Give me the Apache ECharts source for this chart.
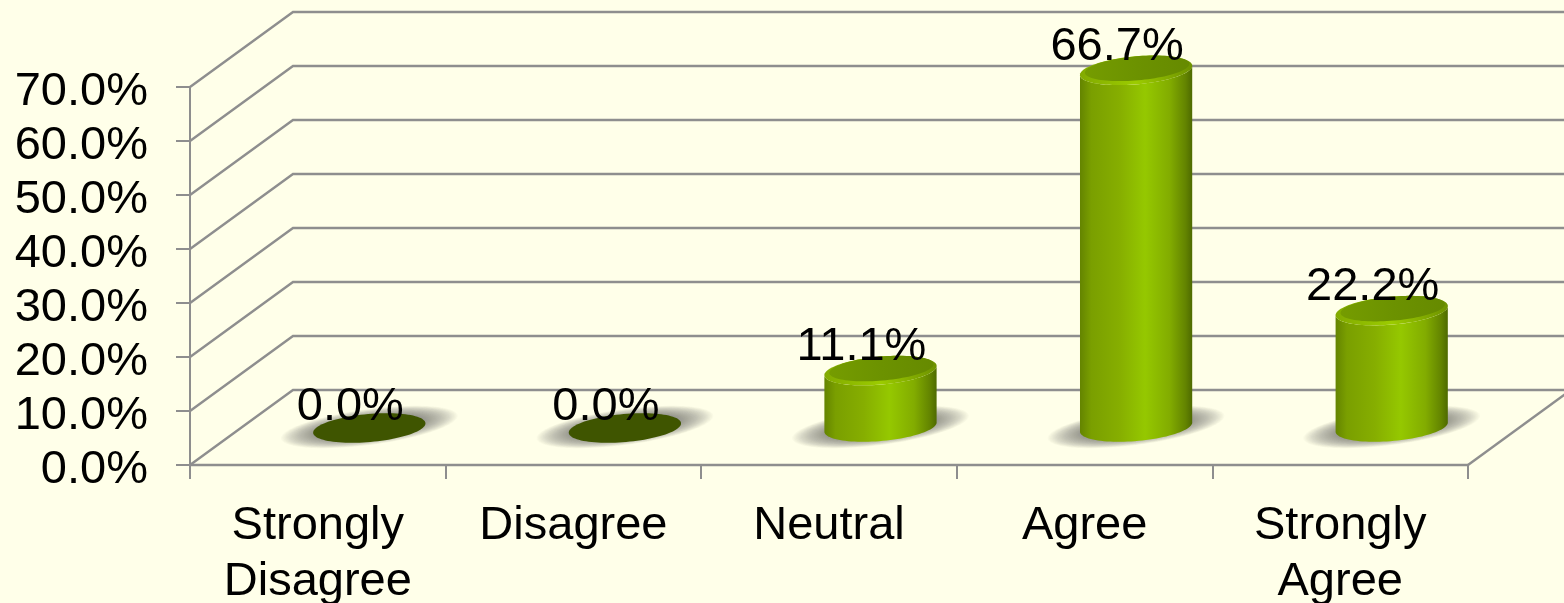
<!DOCTYPE html>
<html>
<head>
<meta charset="utf-8">
<style>html,body{margin:0;padding:0;background:#FFFFE9;overflow:hidden}#c{width:1564px;height:603px}</style>
<script src="https://cdn.jsdelivr.net/npm/echarts@6/dist/echarts.min.js"></script>
</head>
<body>
<div id="c"></div>
<script>
const categories = ['Strongly\nDisagree', 'Disagree', 'Neutral', 'Agree', 'Strongly\nAgree'];
const values = [0.0, 0.0, 11.1, 66.7, 22.2];
const wallTicks = [0, 10, 20, 30, 40, 50, 60, 70];

const FONT = '"Liberation Sans", Arial, sans-serif';
const LINE = '#8E8E8E';
const DEPTH_X = 103, DEPTH_Y = -75;
const TILT = 5 * Math.PI / 180;
const SHADOW_TILT = 7.5 * Math.PI / 180;
const CAP_DROP = 3;

function ellipsePt(cx, cy, rx, ry, t, tilt) {
  const c = Math.cos(t), s = Math.sin(t);
  return [cx + rx * c * Math.cos(tilt) + ry * s * Math.sin(tilt),
          cy - rx * c * Math.sin(tilt) + ry * s * Math.cos(tilt)];
}
function ellipsePts(cx, cy, rx, ry, tilt) {
  const p = [];
  for (let i = 0; i < 96; i++) p.push(ellipsePt(cx, cy, rx, ry, i / 96 * 2 * Math.PI, tilt === undefined ? TILT : tilt));
  return p;
}
function hGrad(stops) {
  return { type: 'linear', x: 0, y: 0, x2: 1, y2: 0,
    colorStops: stops.map(s => ({ offset: s[0], color: s[1] })) };
}

function renderWall(params, api) {
  const cs = params.coordSys;
  const v = api.value(1);
  const y = api.coord([0, v])[1];
  const L = cs.x, R = cs.x + cs.width;
  const style = { stroke: LINE, lineWidth: 2.4, fill: null };
  const children = [{ type: 'polyline', shape: { points: [[L, y], [L + DEPTH_X, y + DEPTH_Y], [R + DEPTH_X, y + DEPTH_Y]] }, style }];
  if (v === 0) children.push({ type: 'line', shape: { x1: R, y1: y, x2: R + DEPTH_X, y2: y + DEPTH_Y }, style });
  return { type: 'group', children };
}

function renderBar(params, api) {
  const idx = api.value(0), v = api.value(1);
  const band = api.size([1, 0])[0];
  const rx = band * 0.2205, ry = 14;
  const base = api.coord([idx, 0]);
  const cx = base[0] + DEPTH_X / 2;
  const by = base[1] + DEPTH_Y / 2 + 0.5;
  const children = [];
  const layers = 30;
  for (let k = 0; k < layers; k++) {
    const f = k / (layers - 1);
    children.push({
      type: 'polygon',
      shape: { points: ellipsePts(cx, by - 1, rx * (1.58 - 0.66 * f), ry * (1.28 - 0.6 * f), SHADOW_TILT) },
      style: { fill: 'rgba(95,97,80,0.032)' }
    });
  }
  if (v === 0) {
    children.push({ type: 'polygon', shape: { points: ellipsePts(cx, by, rx, ry) }, style: { fill: '#3F5500' } });
    return { type: 'group', children };
  }
  const ty = api.coord([idx, v])[1] + DEPTH_Y / 2 + CAP_DROP;
  const t0 = Math.atan(ry * Math.tan(TILT) / rx);
  const body = [];
  for (let i = 0; i <= 48; i++) body.push(ellipsePt(cx, by - 1, rx, ry, -t0 + i / 48 * Math.PI, TILT));
  for (let i = 0; i <= 48; i++) body.push(ellipsePt(cx, ty, rx, ry, -t0 + Math.PI - i / 48 * Math.PI, TILT));
  children.push({
    type: 'polygon', shape: { points: body },
    style: { fill: hGrad([[0, '#648400'], [0.1, '#7A9F00'], [0.35, '#86AE00'], [0.58, '#95C800'], [0.8, '#82AC00'], [0.94, '#638400'], [1, '#4E6A00']]) }
  });
  children.push({
    type: 'polygon', shape: { points: ellipsePts(cx, ty, rx, ry) },
    style: { fill: hGrad([[0, '#82AA00'], [0.5, '#9CCC00'], [1, '#6E9200']]) }
  });
  children.push({
    type: 'polygon', shape: { points: ellipsePts(cx + 1, ty - 2, rx - 4, ry - 2) },
    style: { fill: hGrad([[0, '#759C00'], [0.5, '#6C9200'], [1, '#668A00']]) }
  });
  return { type: 'group', children };
}

function renderLabel(params, api) {
  const idx = api.value(0), v = api.value(1);
  const p = api.coord([idx, v]);
  return {
    type: 'text',
    style: {
      x: p[0] + DEPTH_X / 2 - 19, y: p[1] + DEPTH_Y / 2 - 20.5,
      text: v.toFixed(1) + '%', fill: '#000', font: '47px ' + FONT,
      align: 'center', verticalAlign: 'middle'
    }
  };
}

const chart = echarts.init(document.getElementById('c'), null, { renderer: 'canvas', width: 1564, height: 603 });
chart.setOption({
  animation: false,
  backgroundColor: '#FFFFE9',
  grid: { left: 190, right: 96, top: 87, bottom: 138, containLabel: false, outerBoundsMode: 'none' },
  xAxis: {
    type: 'category', data: categories, boundaryGap: true,
    axisLine: { lineStyle: { color: LINE, width: 2.4 } },
    axisTick: { show: true, length: 14, alignWithLabel: false, lineStyle: { color: LINE, width: 2 } },
    axisLabel: { color: '#000', fontFamily: FONT, fontSize: 47, lineHeight: 56, margin: 33, interval: 0 }
  },
  yAxis: {
    type: 'value', min: 0, max: 70, interval: 10,
    axisLine: { show: true, lineStyle: { color: LINE, width: 2 } },
    axisTick: { show: true, length: 14, lineStyle: { color: LINE, width: 2 } },
    splitLine: { show: false },
    axisLabel: { color: '#000', fontFamily: FONT, fontSize: 47, margin: 42, verticalAlign: 'top', lineHeight: 10, formatter: v => v.toFixed(1) + '%' }
  },
  series: [
    { type: 'custom', silent: true, z: 1, clip: false, renderItem: renderWall,
      data: wallTicks.map(t => [0, t]), encode: { x: 0, y: 1 } },
    { type: 'custom', silent: true, z: 2, clip: false, renderItem: renderBar,
      data: values.map((v, i) => [i, v]), encode: { x: 0, y: 1 } },
    { type: 'custom', silent: true, z: 3, clip: false, renderItem: renderLabel,
      data: values.map((v, i) => [i, v]), encode: { x: 0, y: 1 } }
  ]
});
</script>
</body>
</html>
